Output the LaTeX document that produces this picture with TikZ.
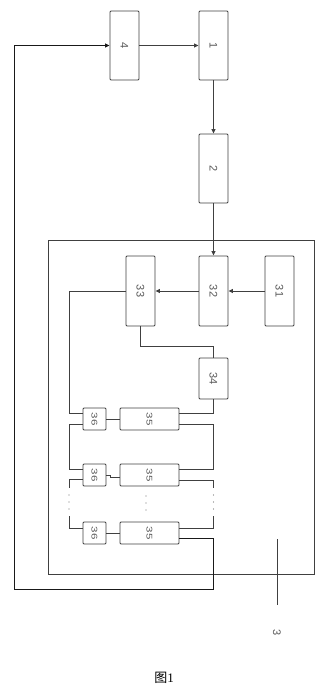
\documentclass[tikz,border=0pt]{standalone}
\usepackage{fontspec}
\setmainfont{Liberation Serif}
\newfontfamily\labfont{Liberation Sans}
\newfontfamily\cjk{Noto Sans CJK SC}
\usetikzlibrary{arrows.meta,calc}
\tikzset{
  blk/.style={draw=black!75, line width=0.9pt, rounded corners=1pt, inner sep=0pt, fill=white,
    text=black!65, font=\labfont\fontsize{11}{11}\selectfont},
  sblk/.style={blk, font=\labfont\fontsize{11}{11}\selectfont},
  wire/.style={draw=black!75, line width=0.9pt},
  arr/.style={wire, -{Triangle[length=4.5pt,width=4pt]}},
  dotc/.style={fill=black!55, circle, inner sep=0pt, minimum size=1.1pt}
}
\newcommand{\rlab}[1]{\rotatebox{-90}{#1}}
\newcommand{\slab}[1]{\rotatebox{-90}{\scalebox{1.05}[0.75]{#1}}}
\begin{document}
\begin{tikzpicture}[x=1pt,y=-1pt]
\useasboundingbox (0,0) rectangle (323,694);
% outer enclosure 3
\draw[wire] (48,240) rectangle (314,574);
% top chain
\node[blk, minimum width=29pt, minimum height=69pt] (b4) at (124.5,45.5) {\rlab{4}};
\node[blk, minimum width=29pt, minimum height=69pt] (b1) at (213.5,45.5) {\rlab{1}};
\node[blk, minimum width=29pt, minimum height=69pt] (b2) at (213.5,168.5) {\rlab{2}};
% inner blocks
\node[blk, minimum width=29pt, minimum height=70pt] (b33) at (140.5,291) {\rlab{33}};
\node[blk, minimum width=29pt, minimum height=70pt] (b32) at (213.5,291) {\rlab{32}};
\node[blk, minimum width=29pt, minimum height=70pt] (b31) at (279.5,291) {\rlab{31}};
\node[blk, minimum width=29pt, minimum height=41pt] (b34) at (213.5,378.5) {\rlab{34}};
% rows
\node[sblk, minimum width=23pt, minimum height=22pt] (r1a) at (94.5,419) {\slab{36}};
\node[sblk, minimum width=59pt, minimum height=22pt] (r1b) at (149.5,419) {\slab{35}};
\node[sblk, minimum width=23pt, minimum height=22pt] (r2a) at (94.5,475) {\slab{36}};
\node[sblk, minimum width=59pt, minimum height=22pt] (r2b) at (149.5,475) {\slab{35}};
\node[sblk, minimum width=23pt, minimum height=22pt] (r3a) at (94.5,533) {\slab{36}};
\node[sblk, minimum width=59pt, minimum height=22pt] (r3b) at (149.5,533) {\slab{35}};
\coordinate (L) at (69,0);
\coordinate (R) at (213.5,0);
% arrows top
\draw[arr] (b4.east) -- (b1.west);
\draw[arr] (b1.south) -- (b2.north);
\draw[arr] (b2.south) -- (b32.north);
\draw[arr] (b31.west) -- (b32.east);
\draw[arr] (b32.west) -- (b33.west -| b33.east);
% 33 -> 34
\draw[wire] (b33.south) -- ++(0,20) -| (b34.north);
% 34 -> row1 35
\draw[wire] (b34.south) |- ($(r1b.east)+(0,-6)$);
% left side
\draw[wire] (b33.west) -| ($(L|-r1a.west)+(0,-6)$) -- ($(r1a.west)+(0,-6)$);
\draw[wire] ($(r1a.west)+(0,5)$) -| ($(L|-r2a.west)+(0,-6)$) -- ($(r2a.west)+(0,-6)$);
\draw[wire] ($(r2a.west)+(0,4)$) -| ($(L|-r2a.west)+(0,13)$);
\draw[wire] ($(L|-r3a.west)+(0,-17)$) |- ($(r3a.west)+(0,-5)$);
% right side
\draw[wire] ($(r1b.east)+(0,5)$) -| ($(R|-r2b.east)+(0,-6)$) -- ($(r2b.east)+(0,-6)$);
\draw[wire] ($(r2b.east)+(0,5)$) -| ($(R|-r2b.east)+(0,13)$);
\draw[wire] ($(R|-r3b.east)+(0,-17)$) |- ($(r3b.east)+(0,-5)$);
% row connectors 36-35
\draw[wire] (r1a.east) -- (r1b.west);
\draw[wire] (r2a.east) -- ++(4,0) -- ++(0,2) -- ($(r2b.west)+(0,2)$);
\draw[wire] (r3a.east) -- (r3b.west);
% dots
\foreach \yy in {495,502,509} {
  \node[dotc] at (69,\yy) {};
  \node[dotc] at (213.5,\yy) {};
  \node[dotc] at (146,\yy+1) {};
}
% feedback loop
\draw[arr, draw=black!90] ($(r3b.east)+(0,5)$) -| (R|-0,589) -| (14,45.5) -- (b4.west);
% label 3
\coordinate (p3) at (277,539);
\draw[wire] (p3) -- (277,605) coordinate (p3e);
\node[text=black!65, font=\labfont\fontsize{11}{11}\selectfont] (l3) at (277,633) {\rlab{3}};
% caption
\node[font=\fontsize{13}{13}\selectfont, inner sep=0pt] (cap) at (164,678) {{\cjk 图}1};
\end{tikzpicture}
\end{document}
